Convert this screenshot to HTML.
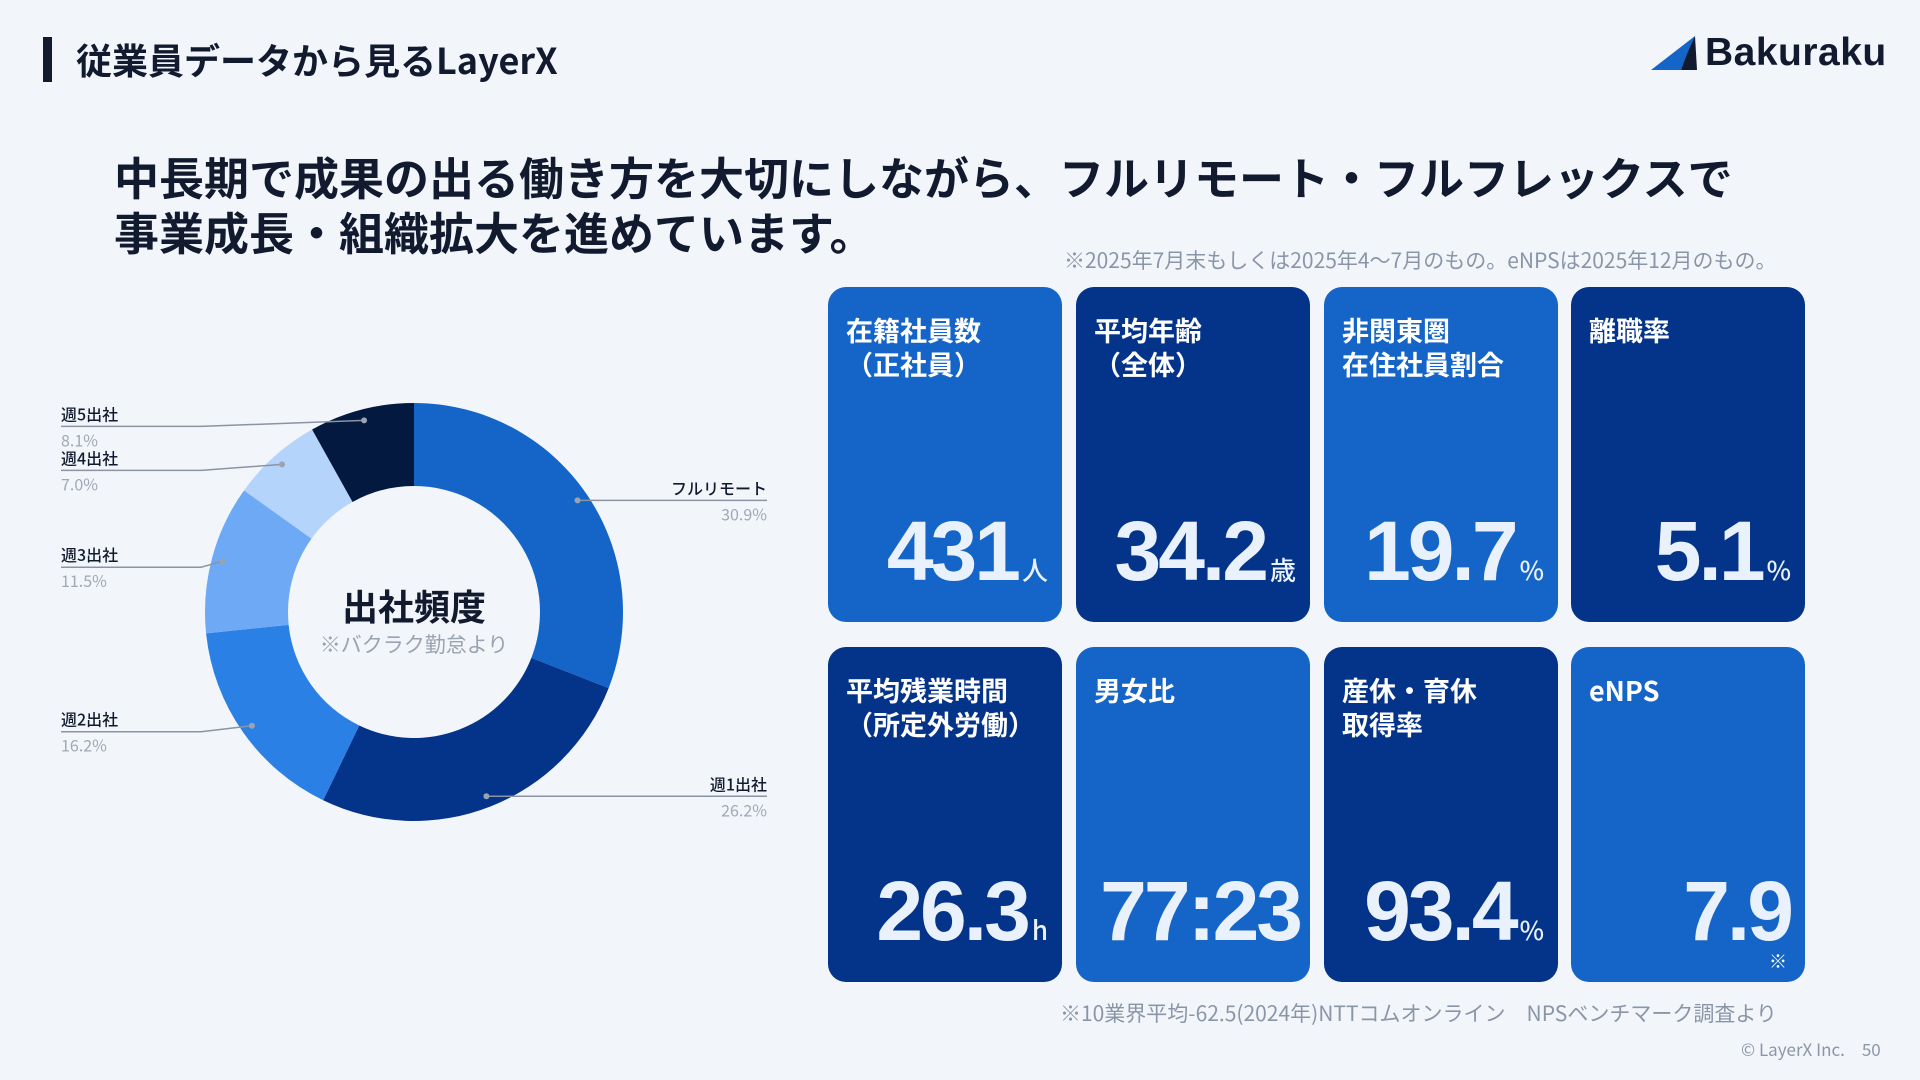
<!DOCTYPE html>
<html><head><meta charset="utf-8">
<style>
*{margin:0;padding:0;box-sizing:border-box}
body{width:1920px;height:1080px;background:#f2f6fb;position:relative;overflow:hidden;font-family:"Liberation Sans","Noto Sans CJK JP",sans-serif;color:#111a2e}
.abs{position:absolute}
.card{position:absolute;width:234px;height:335px;border-radius:18px;color:#fff}
.light{background:#1565c8}.dark{background:#04338a}
.lab{position:absolute;left:18px;top:26px;font-size:27px;font-weight:700;line-height:34px;font-family:"Noto Sans CJK JP",sans-serif;white-space:nowrap}
.val{position:absolute;right:14px;top:222px;height:84px;color:#e9f1fc;font-weight:700;white-space:nowrap;font-family:"Liberation Sans",sans-serif;letter-spacing:-3px;font-size:84px;line-height:84px}
.val small{font-size:26px;letter-spacing:0;font-family:"Noto Sans CJK JP",sans-serif;font-weight:500;margin-left:4px;line-height:0}
.note{font-size:21px;color:#8a96a8;font-family:"Noto Sans CJK JP",sans-serif;white-space:nowrap}
</style></head><body>
<div class="abs" style="left:43px;top:37px;width:9px;height:45px;background:#111a2e"></div>
<div class="abs" style="left:76px;top:36px;font-size:36px;font-weight:700;font-family:'Noto Sans CJK JP',sans-serif;line-height:46px">従業員データから見るLayerX</div>
<div class="abs" style="left:1651px;top:30px;height:46px;display:flex;align-items:center">
<svg width="46" height="34" viewBox="0 0 46 34"><polygon points="44,0 30,34 0,34" fill="#1565c8"/><polygon points="36,18 44,0 46,34 30,34" fill="#111a2e"/></svg>
<span style="font-size:39px;font-weight:700;margin-left:8px;letter-spacing:0.5px">Bakuraku</span></div>
<div class="abs" style="left:114px;top:148px;font-size:45px;font-weight:700;line-height:55px;font-family:'Noto Sans CJK JP',sans-serif;white-space:nowrap">中長期で成果の出る働き方を大切にしながら、フルリモート・フルフレックスで<br>事業成長・組織拡大を進めています。</div>
<div class="abs note" style="left:1064px;top:245px">※2025年7月末もしくは2025年4〜7月のもの。eNPSは2025年12月のもの。</div>

<svg class="abs" style="left:0;top:0" width="820" height="1080" id="donut"></svg>

<div class="card light" style="left:828px;top:287px"><div class="lab">在籍社員数<br>（正社員）</div><div class="val">431<small>人</small></div></div>
<div class="card dark" style="left:1076px;top:287px"><div class="lab">平均年齢<br>（全体）</div><div class="val">34.2<small>歳</small></div></div>
<div class="card light" style="left:1324px;top:287px"><div class="lab">非関東圏<br>在住社員割合</div><div class="val">19.7<small>%</small></div></div>
<div class="card dark" style="left:1571px;top:287px"><div class="lab">離職率</div><div class="val">5.1<small>%</small></div></div>
<div class="card dark" style="left:828px;top:647px"><div class="lab">平均残業時間<br>（所定外労働）</div><div class="val">26.3<small>h</small></div></div>
<div class="card light" style="left:1076px;top:647px"><div class="lab">男女比</div><div class="val" style="right:10px">77:23</div></div>
<div class="card dark" style="left:1324px;top:647px"><div class="lab">産休・育休<br>取得率</div><div class="val">93.4<small>%</small></div></div>
<div class="card light" style="left:1571px;top:647px"><div class="lab">eNPS</div><div class="val">7.9</div><div class="abs" style="right:18px;bottom:8px;font-size:18px">※</div></div>

<div class="abs note" style="left:1060px;top:998px">※10業界平均-62.5(2024年)NTTコムオンライン　NPSベンチマーク調査より</div>
<div class="abs note" style="left:1741px;top:1036px;font-size:17px">© LayerX Inc.　50</div>

<script>
const categories=["フルリモート","週1出社","週2出社","週3出社","週4出社","週5出社"];
const shares=[30.9,26.2,16.2,11.5,7.0,8.1];
const shareLabels=["30.9%","26.2%","16.2%","11.5%","7.0%","8.1%"];
const colors=["#1565c8","#04338a","#2b80e6","#6ea9f5","#b5d4fb","#04193f"];
const svg=document.getElementById('donut');
const NS="http://www.w3.org/2000/svg";
const cx=414,cy=612,R=209,r=126,dotR=198;
const total=shares.reduce((a,b)=>a+b,0);
function pt(a,rad){return [cx+rad*Math.sin(a),cy-rad*Math.cos(a)];}
function mk(t,attrs){const e=document.createElementNS(NS,t);for(const k in attrs)e.setAttribute(k,attrs[k]);svg.appendChild(e);return e;}
let acc=0;
shares.forEach((v,i)=>{
  const a0=acc/total*2*Math.PI, a1=(acc+v)/total*2*Math.PI; acc+=v;
  const large=(a1-a0)>Math.PI?1:0;
  const [x0,y0]=pt(a0,R),[x1,y1]=pt(a1,R),[x2,y2]=pt(a1,r),[x3,y3]=pt(a0,r);
  const p=mk('path',{d:`M${x0},${y0}A${R},${R} 0 ${large} 1 ${x1},${y1}L${x2},${y2}A${r},${r} 0 ${large} 0 ${x3},${y3}Z`,fill:colors[i]});
  
  
  const am=(a0+a1)/2;const [dx,dy]=pt(am,dotR);
  const right=Math.sin(am)>0;
  const lx=right?767:61;
  let ly=dy+(right?0:6);
  const ln=mk('polyline',{points:`${dx},${dy} ${right?lx-190:lx+140},${ly} ${lx},${ly}`,fill:'none',stroke:'#8a94a3','stroke-width':1.5});
  
  
  const dot=mk('circle',{cx:dx,cy:dy,r:3,fill:'#9aa3b0'});
  
  
  const t=mk('text',{x:lx,y:ly-6,'font-size':16,'font-weight':500,fill:'#111a2e','text-anchor':right?'end':'start','font-family':'Noto Sans CJK JP, sans-serif'});
  t.textContent=categories[i];
  
  
  const t2=mk('text',{x:lx,y:ly+20,'font-size':16,fill:'#a0a8b5','text-anchor':right?'end':'start','font-family':'Noto Sans CJK JP, sans-serif'});
  t2.textContent=shareLabels[i];
  
  
});
const c1=mk('text',{x:cx,y:cy+8,'font-size':36,'font-weight':700,fill:'#111a2e','text-anchor':'middle','font-family':'Noto Sans CJK JP, sans-serif'});
c1.textContent='出社頻度';


const c2=mk('text',{x:cx,y:cy+40,'font-size':21,fill:'#9aa3b0','text-anchor':'middle','font-family':'Noto Sans CJK JP, sans-serif'});
c2.textContent='※バクラク勤怠より';


</script>
</body></html>
